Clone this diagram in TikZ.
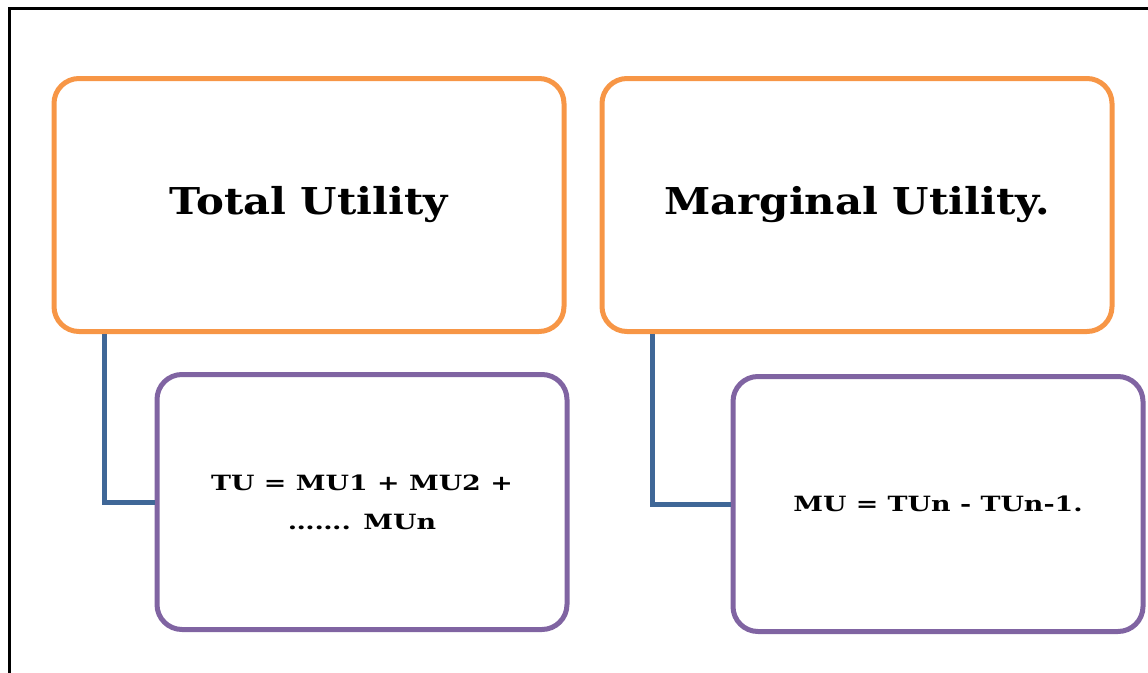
\documentclass[tikz,border=0pt]{standalone}
\usepackage{fontspec}
\setmainfont{DejaVu Serif}
\definecolor{boxorange}{HTML}{F79646}
\definecolor{boxpurple}{HTML}{8064A2}
\definecolor{linkblue}{HTML}{3F6797}
\newcommand{\wideT}[1]{\scalebox{1.13}[1]{#1}}
\newcommand{\wideF}[1]{\scalebox{1.28}[1]{#1}}
\begin{document}
\begin{tikzpicture}[x=1pt,y=-1pt,
  topbox/.style={draw=boxorange,line width=5pt,rounded corners=25pt,minimum width=510pt,minimum height=253pt,inner sep=0pt,font=\bfseries\fontsize{37}{44}\selectfont},
  subbox/.style={draw=boxpurple,line width=5pt,rounded corners=25pt,minimum width=410pt,minimum height=255pt,inner sep=0pt,align=center,font=\bfseries\fontsize{21}{39}\selectfont},
  link/.style={draw=linkblue,line width=5pt}]
\useasboundingbox (0,0) rectangle (1148,672);
\begin{scope}
\clip (0,0) rectangle (1148,672);
\draw[line width=3.5pt] (9.5,8.5) rectangle (1160,690);
\end{scope}
\node[topbox] (tu) at (309,205) {\wideT{Total Utility}};
\node[topbox] (mu) at (857,205) {\wideT{Marginal Utility.}};
\node[subbox] (tuf) at (362,502) {\wideF{TU = MU1 + MU2 +}\\ \wideF{\ldots\ldots. MUn}};
\node[subbox] (muf) at (938,504) {\wideF{MU = TUn - TUn-1.}};
\coordinate (c1) at (104,0);
\coordinate (c2) at (652,0);
\draw[link] (c1 |- tu.south) -- (c1 |- tuf.west) -- (tuf.west);
\draw[link] (c2 |- mu.south) -- (c2 |- muf.west) -- (muf.west);
\end{tikzpicture}
\end{document}
